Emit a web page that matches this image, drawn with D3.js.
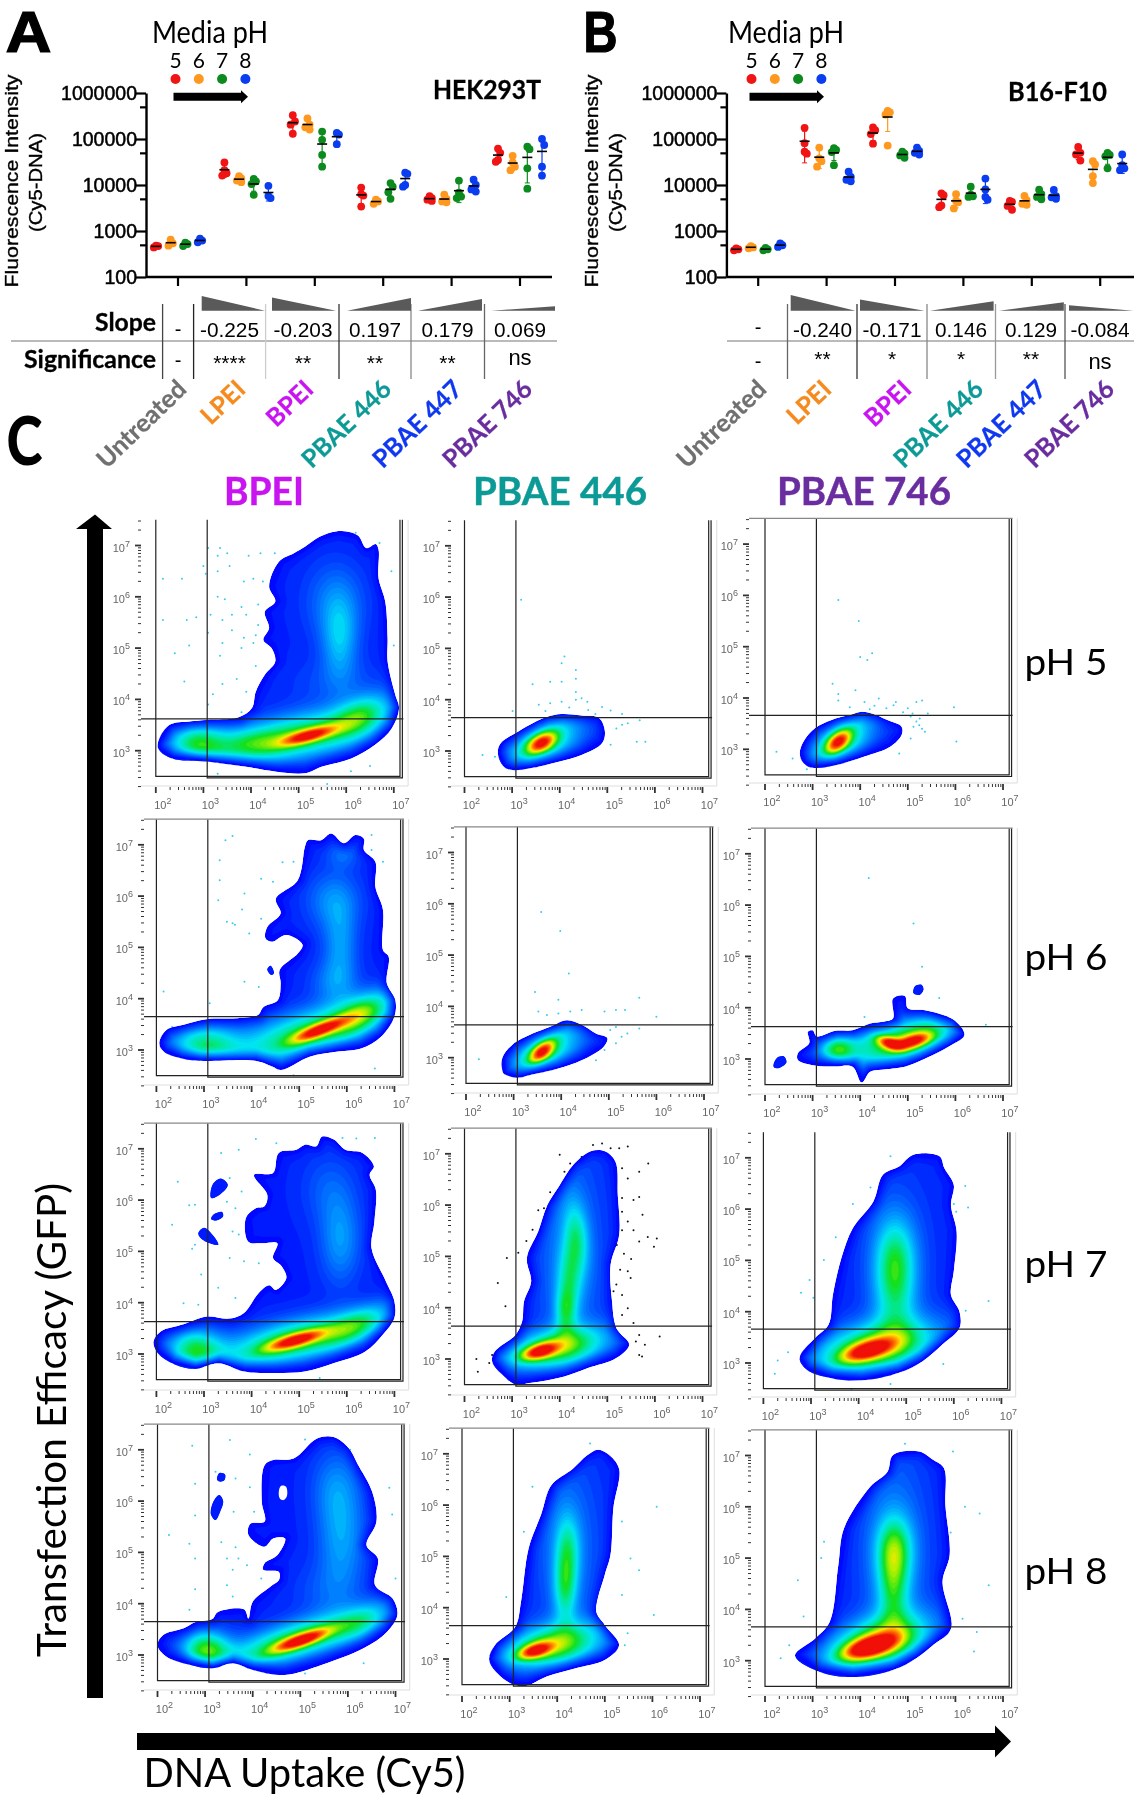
<!DOCTYPE html>
<html><head><meta charset="utf-8">
<script src="https://cdnjs.cloudflare.com/ajax/libs/d3/7.8.5/d3.min.js"></script>
<style>html,body{margin:0;padding:0;background:#fff}svg{display:block;filter:blur(0.35px)}</style>
</head><body><svg id="fig" width="1137" height="1800" xmlns="http://www.w3.org/2000/svg"></svg>
<script>
// ---------- Panels A, B: categories & labels ----------
const categories = ["Untreated","LPEI","BPEI","PBAE 446","PBAE 447","PBAE 746"];
const phLevels = [5,6,7,8];
const yTickValues = [100,500,1000,5000,10000,50000,100000,500000,1000000];
const hekSlopes = [null,-0.225,-0.203,0.197,0.179,0.069];
const hekSigLabels = ["-","****","**","**","**","ns"];
const b16Slopes = [null,-0.240,-0.171,0.146,0.129,-0.084];
const b16SigLabels = ["-","**","*","*","**","ns"];
// each: four lists, pH 5,6,7,8
const hekUntreated=[[440,470,480],[480,540,650],[470,520,560],[570,620,680]];
const hekLPEI=[[31000,21000,18000,16000],[15500,14000,12500,11500],[13500,12000,10500,6100],[9600,5800,5200]];
const hekBPEI=[[330000,240000,205000,130000],[280000,205000,180000,160000],[145000,96000,45000,25000],[135000,125000,77000]];
const hek446=[[8800,6300,5900,3400],[4800,4400,3900],[11000,9200,7000,5000],[18500,17500,10000,9200]];
const hek447=[[5700,5200,4800,4500],[6200,5000,4400,4200],[12500,6800,5600,5200],[13000,10000,8000,7200]];
const hek746=[[62000,50000,35000,32000],[43000,31000,25000,21000],[68000,60000,23000,8300],[100000,74000,25000,16000]];
const b16Untreated=[[380,400,420],[420,440,470],[380,400,430],[450,490,540]];
const b16LPEI=[[175000,81000,53000,48000],[65000,38000,33000,25000],[63000,58000,52000,27000],[19500,15000,13000,12000]];
const b16BPEI=[[178000,155000,128000,79000],[410000,380000,340000,72000],[53000,48000,44000,39000],[65000,55000,50000,46000]];
const b16446=[[6600,6000,3600,3300],[6300,4500,4200,3100],[9200,6200,5700,5500],[13800,8000,5500,4800]];
const b16447=[[4500,4300,3500,2900],[5800,4700,3900,3700],[7900,6300,5500,4900],[7800,5700,5400,5000]];
const b16746=[[67000,50000,46000,34000],[33000,28000,15500,11000],[50000,45000,42000,23000],[46000,27000,23000,21000]];

// ---------- Panel C: log10 (Cy5, GFP) outlines, density peaks [logx,logy,sdLong,sdShort,angle,height], outlying events ----------
const bpei5Outline=[[2.04,3.14],[2.28,3.5],[2.71,3.57],[3.07,3.6],[3.74,3.65],[4.02,3.83],[4.1,4.15],[4.29,4.48],[4.51,4.74],[4.43,5],[4.26,5.16],[4.38,5.39],[4.29,5.71],[4.51,5.91],[4.38,6.2],[4.59,6.69],[4.9,6.85],[5.14,6.98],[5.44,7.17],[5.81,7.28],[6.24,7.2],[6.42,6.95],[6.62,7.03],[6.68,6.92],[6.68,6.36],[6.82,5.91],[6.87,5.19],[6.87,4.74],[7.03,4.09],[7.11,3.83],[6.96,3.44],[6.6,3.11],[6.11,2.85],[5.5,2.69],[5.14,2.56],[4.53,2.59],[3.86,2.69],[3.07,2.79],[2.34,2.85],[2.07,3.01]];
const bpei5Peaks=[[5.2,3.28,.42,.09,14,.55],[5,3.27,1.15,.3,10,.52],[6.3,3.68,.45,.24,25,.34],[2.85,3.13,.42,.27,0,.45],[3.95,3.12,.5,.2,5,.2],[5.85,5.15,.26,.55,0,.24],[5.75,5.9,.45,.55,0,.15],[5.8,4.3,.7,.35,0,.08]];
const bpei5Dots=[[3.1,6.95],[3.35,6.95],[3.5,6.85],[3.3,6.8],[3,6.6],[3.05,6.45],[3.3,6.5],[3.55,6.6],[3.95,6.8],[4.2,6.85],[4.5,6.85],[2.55,6.35],[2.15,6.35],[3.85,6.3],[4.05,6.35],[4.25,6.3],[3.3,6],[3.45,5.95],[4.15,5.85],[3.8,5.8],[2.85,5.6],[3.15,5.65],[3.4,5.55],[3.6,5.65],[3.9,5.65],[4.15,5.45],[2.15,5.55],[2.65,5.55],[3.1,5.3],[3.6,5.35],[3.85,5.2],[4.1,5.25],[2.7,5.05],[3.4,5.1],[3.8,5],[4.05,5.1],[3.35,4.85],[2.4,4.9],[2.6,4.35],[3.2,4.1],[3.4,4.3],[3.7,4.4],[3.9,4.15],[4.1,4.65],[6.2,7.25],[6.7,7.05],[6.95,6.5],[7,5.05],[3.1,3.9],[3.8,3.75],[6.5,2.7],[6.1,2.6],[3.3,2.55],[5.6,2.35]];
const p4465Outline=[[2.7,2.95],[2.76,3.15],[3.13,3.38],[3.49,3.57],[3.74,3.67],[4.04,3.72],[4.46,3.69],[4.83,3.64],[4.95,3.38],[4.89,3.15],[4.46,2.92],[3.98,2.79],[3.37,2.66],[3.01,2.63],[2.83,2.69]];
const p4465Peaks=[[3.6,3.14,.24,.12,25,.62],[3.65,3.15,.6,.3,25,.42]];
const p4465Dots=[[4.1,4.84],[4.04,4.71],[4.34,4.58],[4.34,4.41],[3.8,4.35],[3.43,4.3],[4.04,4.35],[4.34,4.15],[3.56,3.9],[3.8,3.93],[4.04,3.96],[4.34,4],[4.46,4.03],[4.58,3.96],[4.89,3.86],[5.07,3.79],[5.31,3.72],[5.68,3.6],[3.19,5.95],[5.31,3.51],[5.19,3.44],[5.43,3.54],[5.07,3.12],[5.8,3.18],[5.62,3.18],[2.38,2.92],[2.64,2.89],[3.01,3.78],[4.2,3.85],[4.6,3.8],[4.75,3.72],[3.7,3.78]];
const p7465Outline=[[2.73,2.92],[2.81,3.15],[3.05,3.41],[3.48,3.6],[3.79,3.67],[4.03,3.73],[4.33,3.67],[4.57,3.57],[4.87,3.44],[4.87,3.28],[4.63,3.05],[4.09,2.86],[3.48,2.69],[3,2.64],[2.81,2.73]];
const p7465Peaks=[[3.52,3.13,.22,.12,35,.62],[3.6,3.15,.55,.3,35,.42]];
const p7465Dots=[[3.54,5.91],[3.97,5.5],[4.25,4.87],[4.15,4.74],[4,4.8],[3.42,4.28],[3.9,4.15],[3.54,4.08],[3.54,3.95],[3.78,3.82],[4.09,3.92],[4.39,3.99],[4.75,3.92],[5.18,3.92],[5.3,3.95],[5.97,3.82],[5.42,3.7],[5.06,3.64],[5.18,3.54],[5.12,3.44],[5.24,3.47],[5.36,3.34],[5.06,3.21],[4.82,2.92],[6.02,3.15],[2.24,2.95],[2.58,2.82],[2.88,2.61],[4.3,3.85],[4.55,3.8],[4.7,3.86],[4.9,3.72],[5,3.8],[4.2,3.78],[5.1,3.7],[5.25,3.6],[5.3,3.4]];
const bpei6Outline=[[2.06,3.13],[2.21,3.39],[2.57,3.49],[3.05,3.6],[3.71,3.62],[4.13,3.68],[4.25,3.84],[4.55,3.97],[4.61,4.3],[4.59,4.56],[4.97,4.88],[5.07,5.05],[4.73,5.24],[4.43,5.11],[4.29,5.18],[4.33,5.4],[4.61,5.66],[4.51,5.95],[4.97,6.31],[5.12,6.96],[5.18,7.09],[5.46,7.09],[5.67,7.22],[5.94,7.03],[6.18,7.19],[6.36,7.12],[6.36,6.9],[6.6,6.67],[6.6,6.18],[6.76,5.73],[6.76,4.95],[6.88,4.82],[6.84,4.3],[7.02,3.97],[7,3.65],[6.72,3.26],[6.3,3.03],[5.82,2.97],[5.22,2.87],[4.62,2.61],[4.43,2.68],[4.07,2.79],[2.93,2.79],[2.51,2.84],[2.15,2.97]];
const bpei6Islands=[[[4.33,4.58],[4.4,4.64],[4.47,4.5],[4.42,4.46],[4.35,4.52]]];
const bpei6Peaks=[[5.4,3.37,.42,.09,20,.58],[5.2,3.33,1.15,.3,15,.5],[6.3,3.7,.45,.22,30,.36],[3,3.1,.5,.27,0,.42],[5.85,5,.25,.55,0,.2],[5.7,5.9,.4,.4,0,.18],[5.9,6.8,.25,.2,0,.12],[5.7,4.3,.35,.3,0,.14]];
const bpei6Dots=[[3.6,7.17],[3.45,7.09],[3.33,6.7],[3.33,6.31],[3.3,5.92],[3.8,5.74],[4.2,6.34],[4.45,6.28],[4.65,6.66],[4.88,6.67],[4.2,5.56],[3.48,5.5],[3.65,5.44],[3.95,5.27],[3.6,5.47],[3.85,4.33],[2.15,4.14],[3.85,6.05],[4.15,4.23],[3.12,3.91],[6.52,7.19],[6.52,6.9],[6.76,6.67],[6.59,2.64],[4.88,2.51],[2.33,3.45]];
const p4466Outline=[[2.79,2.69],[2.76,2.99],[2.97,3.25],[3.4,3.47],[3.76,3.6],[4.12,3.73],[4.43,3.64],[4.73,3.47],[4.97,3.38],[4.89,3.21],[4.43,2.95],[3.94,2.79],[3.33,2.66],[3.09,2.61],[2.85,2.66]];
const p4466Peaks=[[3.58,3.1,.22,.11,35,.62],[3.65,3.12,.6,.3,30,.42]];
const p4466Dots=[[3.58,5.84],[3.98,5.47],[4.16,4.64],[3.45,4.28],[3.94,4.13],[5.64,4.17],[5.34,3.93],[5.15,3.93],[4.91,3.9],[4.43,3.93],[4.19,3.9],[3.94,3.86],[3.7,3.83],[3.52,3.9],[6,3.8],[5.64,3.57],[5.15,3.6],[5.03,3.54],[5.27,3.41],[5.39,3.47],[5.15,3.28],[4.91,3.15],[4.73,2.95],[2.27,2.97]];
const p7466Outline=[[2.69,3.11],[2.93,3.31],[2.9,3.53],[3,3.56],[3.09,3.44],[3.48,3.55],[3.84,3.56],[4.21,3.69],[4.51,3.73],[4.69,3.79],[4.69,4.18],[4.94,4.23],[5,3.99],[5.36,3.95],[5.97,3.76],[6.19,3.47],[5.91,3.27],[5.3,2.98],[4.94,2.85],[4.45,2.79],[4.21,2.75],[4.03,2.54],[3.84,2.85],[3.48,2.86],[3,2.88],[2.69,2.98]];
const p7466Islands=[[[2.18,2.85],[2.25,3.02],[2.4,3.05],[2.45,2.93],[2.28,2.82]],[[5.12,4.28],[5.15,4.42],[5.28,4.45],[5.33,4.36],[5.25,4.25]]];
const p7466Peaks=[[4.6,3.3,.2,.08,-15,.5],[5.1,3.33,.28,.09,15,.5],[4.8,3.3,.8,.27,10,.55],[3.5,3.17,.25,.2,0,.42],[5.4,3.6,.4,.2,20,.15]];
const p7466Dots=[[4.18,6.53],[5.12,5.64],[5.3,4.8],[5.66,4.19],[4.09,3.82],[6.64,3.67]];
const bpei7Outline=[[1.94,3.25],[2.09,3.44],[2.57,3.58],[3.06,3.73],[3.54,3.69],[3.84,3.8],[4.15,4.19],[4.37,4.34],[4.51,4.25],[4.73,4.48],[4.63,4.71],[4.45,4.87],[4.54,5.16],[4.21,5.16],[3.93,5.19],[3.88,5.65],[4.09,5.84],[4.27,5.88],[4.33,6.1],[4.05,6.49],[4.45,6.53],[4.57,6.92],[4.94,6.98],[5.12,7.08],[5.36,7.05],[5.48,7.24],[5.73,7.18],[5.97,6.98],[6.33,6.92],[6.57,6.66],[6.48,6.49],[6.61,6.2],[6.58,5.58],[6.52,5.06],[6.82,4.42],[7,4.03],[7,3.7],[6.76,3.38],[6.39,3.05],[5.72,2.82],[5.12,2.66],[4.51,2.63],[3.84,2.66],[3.3,2.82],[2.81,2.71],[2.33,2.82],[2,3.05]];
const bpei7Islands=[[[3.15,6.04],[3.18,6.3],[3.35,6.42],[3.5,6.3],[3.35,6.12]],[[3.15,5.63],[3.2,5.72],[3.38,5.77],[3.4,5.68],[3.25,5.6]],[[2.88,5.35],[3,5.46],[3.2,5.3],[3.3,5.13],[3.15,5.15],[2.98,5.22]]];
const bpei7Peaks=[[4.9,3.25,.45,.09,15,.55],[4.9,3.25,1.1,.27,12,.55],[6.2,3.55,.5,.2,25,.3],[2.8,3.08,.4,.27,0,.47],[5.85,5.2,.3,.6,0,.2],[5.6,6.2,.4,.5,0,.1]];
const bpei7Dots=[[4.09,7.19],[4.52,7.11],[5.91,7.21],[6.2,7.2],[6.59,7.21],[3.73,6.98],[3.36,6.92],[2.45,6.36],[2.81,5.91],[2.69,5.9],[3.54,6.43],[3.79,6.17],[3.48,5.97],[3.66,5.84],[3.6,5.39],[3.73,5.33],[2.81,5.13],[2.33,5.52],[2.75,5.05],[3.54,4.87],[3.84,4.81],[4.15,4.77],[2.94,4.55],[3.3,4.29],[3.66,4.09],[2.88,3.96],[2.57,3.99],[5.43,2.53]];
const p4467Outline=[[2.58,2.95],[2.64,3.15],[3.07,3.47],[3.21,3.73],[3.25,4.12],[3.4,4.51],[3.31,4.97],[3.55,5.49],[3.74,6],[3.98,6.36],[4.29,6.79],[4.65,7.05],[4.95,7.05],[5.17,6.85],[5.22,6.2],[5.25,5.42],[5.07,4.84],[5.1,4.12],[5.19,3.6],[5.46,3.28],[5.19,3.02],[4.58,2.82],[4.1,2.66],[3.37,2.53],[3.07,2.5],[2.83,2.66]];
const p4467Peaks=[[3.55,3.13,.28,.1,15,.6],[3.9,3.2,.75,.25,10,.55],[4.34,5.36,.18,.5,5,.28],[4.18,4.5,.18,.5,0,.28],[4.1,3.9,.15,.3,0,.26],[4.2,5,.5,1.6,0,.16]];
const p4467Dots=[[5.43,7.14],[5.25,7.11],[5.07,7.11],[4.89,7.2],[4.7,7.17],[4.46,6.94],[4.22,6.81],[4,6.98],[5.86,6.81],[5.31,6.72],[5.43,6.52],[5.67,6.65],[5.31,6.14],[5.55,6.1],[5.67,6.16],[5.31,5.87],[5.74,5.81],[5.43,5.68],[5.31,5.51],[5.55,5.51],[5.85,5.38],[6.04,5.35],[5.98,5.19],[5.67,5.29],[5.2,5.22],[5.27,4.74],[5.43,4.71],[5.49,4.58],[5.19,4.45],[5.13,4.32],[5.31,4.25],[5.43,3.99],[5.31,3.86],[5.55,3.7],[5.67,3.47],[6.1,3.44],[5.6,3.34],[5.79,3.28],[5.67,3.08],[5.73,3.05],[3.67,5.94],[3.55,5.9],[3.43,5.52],[3.13,5.07],[2.89,4.97],[2.7,4.48],[2.86,4.03],[2.25,3],[2.52,2.92],[2.58,3.08],[2.28,2.75],[5.5,4.95],[5.35,5.05],[3.8,6.25],[4.1,6.65],[3.3,5.3]];
const p7467Outline=[[2.76,3.1],[3.09,3.49],[3.37,3.75],[3.46,4.33],[3.64,5.05],[3.88,5.63],[4.31,6.15],[4.51,6.67],[4.85,6.83],[5.15,7.06],[5.7,7.03],[5.8,6.8],[6,6.47],[5.94,6.08],[6.06,5.56],[6,4.79],[5.94,4.33],[6.12,4],[6.12,3.68],[5.76,3.36],[5.34,3.03],[4.85,2.81],[4.06,2.66],[3.4,2.71],[2.91,2.87]];
const p7467Peaks=[[4.15,3.22,.4,.13,15,.6],[4.35,3.3,.9,.33,10,.58],[4.75,4.3,.3,.6,0,.28],[4.75,5.1,.3,.55,0,.3],[4.75,5,.55,1.3,0,.1]];
const p7467Dots=[[4.67,7.03],[5.4,7.07],[6.24,6.45],[6,6.1],[6.3,6.03],[6.05,5.95],[3.88,6.1],[4.25,6.42],[3.52,5.45],[3.27,5.01],[2.97,4.62],[2.79,4.37],[3.05,4.27],[6.73,4.21],[6.25,4.02],[2.52,3.21],[2.3,3.05],[2.24,2.79],[3.85,2.49],[4.67,2.59],[5.78,2.98]];
const bpei8Outline=[[2,3.19],[2.12,3.39],[2.55,3.52],[2.79,3.64],[3.15,3.7],[3.27,3.84],[3.82,3.89],[3.91,3.71],[4,4.04],[4.37,4.33],[4.55,4.46],[4.55,4.62],[4.22,4.66],[4.25,4.79],[4.52,4.95],[4.68,5.27],[4.43,5.27],[4.25,5.11],[3.91,5.34],[3.95,5.56],[4.25,5.6],[4.19,5.99],[4.25,6.7],[4.43,6.8],[4.86,6.83],[5.35,7.22],[5.7,7.25],[6.02,7.03],[6.2,6.73],[6.51,6.18],[6.6,5.6],[6.39,5.14],[6.63,4.88],[6.57,4.36],[6.94,4.1],[7.04,3.78],[6.82,3.45],[6.33,3.13],[5.46,2.81],[4.67,2.61],[4,2.71],[3.58,2.84],[3.15,2.74],[2.67,2.81],[2.18,2.97]];
const bpei8Islands=[[[3.25,6.42],[3.3,6.55],[3.42,6.52],[3.4,6.4],[3.3,6.38]],[[3.12,5.75],[3.18,6],[3.3,6.12],[3.38,6],[3.32,5.8],[3.22,5.63]]];
const bpei8Holes=[[[4.55,6.2],[4.6,6.3],[4.7,6.28],[4.72,6.1],[4.65,6.02],[4.57,6.05]]];
const bpei8Peaks=[[5,3.27,.45,.09,18,.6],[4.9,3.27,1.1,.25,15,.53],[3,3.1,.35,.25,0,.53],[6.3,3.65,.4,.2,25,.22],[5.85,5.3,.35,.8,0,.22],[5.7,6.3,.35,.5,0,.12],[5.5,4.2,.5,.4,0,.08]];
const bpei8Dots=[[3.52,7.19],[2.73,7.08],[3.94,6.91],[5.1,7.2],[6.05,7],[6.87,6.26],[6.93,5.74],[2.79,6.34],[3.22,6.57],[3.64,6.44],[3.94,6.27],[3.6,5.79],[4.03,5.79],[2.79,5.72],[2.24,5.34],[2.67,5.17],[3.34,5.2],[3.64,5.1],[3.7,4.88],[3.46,4.88],[2.79,4.88],[3.58,4.66],[3.88,4.75],[4.18,4.49],[3.46,4.36],[3.58,4.14],[2.79,4.28],[2.67,3.88],[7,4.49],[6.33,2.84],[5.1,2.64]];
const p4468Outline=[[2.57,2.98],[2.69,3.27],[3.12,3.63],[3.24,4.12],[3.4,5.16],[3.66,5.81],[3.88,6.39],[4.33,6.71],[4.63,6.97],[4.85,7.08],[5.06,7],[5.3,6.71],[5.18,5.94],[5.12,5.03],[5,4.64],[4.82,3.92],[5,3.66],[5.3,3.27],[5,2.98],[4.39,2.82],[3.78,2.66],[3.36,2.48],[3.12,2.49],[2.81,2.66]];
const p4468Peaks=[[3.5,3.14,.27,.1,15,.6],[3.9,3.25,.72,.28,10,.58],[4.2,5.1,.18,.5,0,.3],[4.15,4.3,.17,.45,0,.3],[4.2,5.2,.5,1.3,0,.15]];
const p4468Dots=[[4.69,7.2],[3.48,6.36],[3.3,5.48],[2.93,4.21],[6.03,3.86],[6.09,5.97],[5.36,5.68],[5.54,4.96],[5.72,4.73],[5.48,3.5],[5.36,4.25],[5.42,3.27]];
const p7468Outline=[[2.63,3.1],[3.06,3.44],[3.36,3.76],[3.54,4.86],[3.66,5.58],[4.21,6.39],[4.57,6.68],[4.69,7.01],[5.24,7.08],[5.54,6.91],[5.76,6.75],[5.79,6.03],[5.88,5.06],[5.73,4.54],[5.91,3.63],[5.54,3.31],[5.18,3.05],[4.69,2.82],[3.84,2.68],[3.12,2.79]];
const p7468Peaks=[[4.15,3.24,.42,.14,15,.7],[4.35,3.35,.75,.32,15,.6],[4.7,5.15,.26,.45,0,.42],[4.68,4.3,.22,.5,0,.3],[4.7,5,.5,1.5,0,.18]];
const p7468Dots=[[4.94,7.23],[5.95,7.08],[6.51,5.87],[6.2,6],[5.9,5.5],[3.24,5.32],[3.18,5],[2.69,4.57],[6.7,4.47],[6.15,3.82],[6.45,3.56],[2.51,3.3],[2.33,3.05],[6.39,3.18],[2.81,3.86]];

const columnTitles=["BPEI","PBAE 446","PBAE 746"];
const rowTitles=["pH 5","pH 6","pH 7","pH 8"];
const gateValues={left:2.0,mid:3.08,right:7.13,right2:7.18,top:7.5,bottom:2.5,bottom2:2.47};
const gateHorizontal=[[3.62,3.65,3.66],[3.65,3.64,3.63],[3.63,3.64,3.66],[3.65,3.65,3.66]];

// ---------- layout (pixels) ----------
const panelLayout=[
 [{x2:155.8,y3:750.7,col:141,row:787},{x2:464.5,y3:751,col:451,row:787},{x2:765,y3:749.3,col:749,row:784}],
 [{x2:156.4,y3:1050,col:144,row:1086},{x2:466,y3:1057.7,col:454,row:1094},{x2:765,y3:1059,col:751,row:1095}],
 [{x2:156.4,y3:1354,col:144,row:1391},{x2:464.5,y3:1359,col:451,row:1396},{x2:763.4,y3:1363,col:751,row:1398}],
 [{x2:157.5,y3:1655,col:144,row:1691},{x2:462,y3:1659,col:449,row:1696},{x2:765,y3:1660.7,col:751,row:1696}]];
const rowTitleY=[675,970,1277,1584];
const topGateRows=[[0,0,1],[1,1,1],[1,1,0],[1,1,1]];
const phColors=["#f01414","#ff981e","#0c8a1e","#0a3cf0"];
const catColors=["#707070","#f58a1f","#c814f0","#0c9a96","#0f38f0","#6a2da0"];
const densityStops=[[0,"#0008ff"],[.12,"#0050ff"],[.24,"#0098ff"],[.36,"#00e4f4"],[.46,"#00e8a0"],[.56,"#10e020"],[.68,"#a8f000"],[.76,"#ffe800"],[.86,"#ff8000"],[1,"#f01008"]];

const svg=d3.select("#fig");
const LB="Lato, 'Open Sans', sans-serif", LS="'Liberation Sans', Arial, sans-serif";
function txt(g,s,x,y,size,o={}){
  const t=g.append("text").attr("x",x).attr("y",y).attr("font-size",size).attr("font-family",o.f||LB)
    .attr("font-weight",o.w||400).attr("fill",o.c||"#000").attr("text-anchor",o.a||"middle").text(s);
  if(o.len) t.attr("textLength",o.len).attr("lengthAdjust","spacingAndGlyphs");
  if(o.rot!=null) t.attr("transform",`rotate(${o.rot} ${x} ${y})`);
  if(o.st) t.attr("stroke",o.c||"#000").attr("stroke-width",o.st);
  return t;
}
function arrowRight(g,x0,x1,xh,y,sw,hw){
  g.append("path").attr("fill","#000").attr("d",`M${x0},${y-sw/2}L${xh},${y-sw/2}L${xh},${y-hw/2}L${x1},${y}L${xh},${y+hw/2}L${xh},${y+sw/2}L${x0},${y+sw/2}Z`);
}

// ---------- dot plots ----------
function dotPlot(cfg){
  const g=svg.append("g");
  const y=d3.scaleLog().domain([100,1e6]).range([cfg.y100,cfg.y1e6]);
  const x=d3.scaleBand().domain(categories).range([cfg.xLeft,cfg.xLeft+6*cfg.step]);
  const ph=d3.scalePoint().domain(phLevels).range([-22,22]);
  const ya=g.append("g").attr("transform",`translate(${cfg.axisX},0)`)
    .call(d3.axisLeft(y).tickValues(yTickValues).tickSizeOuter(0).tickFormat(d=>String(d).startsWith("5")?"":d3.format("d")(d)));
  ya.selectAll("line").attr("stroke","#000").attr("stroke-width",2.2).attr("x2",d=>String(d).startsWith("5")?-6:-10);
  ya.select(".domain").attr("stroke","#000").attr("stroke-width",2.4);
  ya.selectAll("text").attr("font-family",LS).attr("font-size",19.5).attr("fill","#000").attr("stroke","#000").attr("stroke-width",.5).attr("x",-9).attr("dy",".34em");
  const xa=g.append("g").attr("transform",`translate(0,${cfg.y100})`)
    .call(d3.axisBottom(x).tickSizeOuter(0).tickSize(9).tickFormat(""));
  xa.selectAll("line").attr("stroke","#000").attr("stroke-width",2.2);
  xa.select(".domain").attr("stroke","#000").attr("stroke-width",2.4).attr("d",`M${cfg.axisX},0H${cfg.xEnd}`);
  cfg.groups.forEach((grp,gi)=>{
    const cx=x(categories[gi])+x.bandwidth()/2;
    grp.forEach((vals,pi)=>{
      const col=phColors[pi], px=cx+ph(phLevels[pi]);
      const m=d3.mean(vals), sd=d3.deviation(vals);
      const lo=Math.max(m-sd,110), hi=m+sd;
      g.append("line").attr("x1",px).attr("x2",px).attr("y1",y(lo)).attr("y2",y(hi)).attr("stroke",col).attr("stroke-width",1.2);
      [lo,hi].forEach(v=>g.append("line").attr("x1",px-2.5).attr("x2",px+2.5).attr("y1",y(v)).attr("y2",y(v)).attr("stroke",col).attr("stroke-width",1));
      const sorted=[...vals].sort((a,b)=>b-a);
      let flip=1,prev=null;
      const pts=sorted.map(v=>{let off=0; if(prev!=null&&Math.abs(y(v)-prev)<6.5){off=2.2*flip;flip=-flip;} prev=y(v); return {v,off};});
      g.selectAll(null).data(pts).join("circle").attr("cx",d=>px+d.off).attr("cy",d=>y(d.v)).attr("r",3.9).attr("fill",col);
      g.append("line").attr("x1",px-5).attr("x2",px+5).attr("y1",y(m)).attr("y2",y(m)).attr("stroke","#000").attr("stroke-width",1.6);
    });
  });
  // legend
  txt(g,"Media pH",cfg.legX,43,30,{len:116});
  phLevels.forEach((p,i)=>{
    const lx=cfg.legX-34.5+i*23.3;
    txt(g,p,lx,68,21);
    g.append("circle").attr("cx",lx).attr("cy",79).attr("r",5).attr("fill",phColors[i]);
  });
  arrowRight(g,cfg.legX-36.5,cfg.legX+38,cfg.legX+31,96.7,8,13);
  txt(g,cfg.cell,cfg.cellX,cfg.cellY,26,{w:700,a:"start",len:cfg.cellLen,st:.3});
  txt(g,"Fluorescence Intensity",cfg.axisX-128,181,18.5,{f:LS,rot:-90,len:213,st:.35});
  txt(g,"(Cy5-DNA)",cfg.axisX-104,182.5,18.5,{f:LS,rot:-90,len:99,st:.35});
  // table
  const slopeH=d3.scaleLinear().domain([0,.24]).range([0,15.6]);
  g.append("line").attr("x1",cfg.tblX0).attr("x2",cfg.tblX1).attr("y1",341).attr("y2",341).attr("stroke","#777").attr("stroke-width",1.2);
  cfg.vlines.forEach(([vx,c,top])=>g.append("line").attr("x1",vx).attr("x2",vx).attr("y1",top||304).attr("y2",379).attr("stroke",c).attr("stroke-width",1.3));
  cfg.slopes.forEach((s,i)=>{
    const cx=cfg.cols[i];
    if(s==null){ txt(g,"-",cx,cfg.dashY[0],20,{f:LS}); txt(g,"-",cx,cfg.dashY[1],20,{f:LS}); return; }
    const [a,b]=cfg.wedges[i], h=slopeH(Math.abs(s));
    g.append("path").attr("fill","#5a5a5a").attr("d",s<0?`M${a},310.7V${310.7-h}L${b},310.7Z`:`M${a},310.7L${b},${310.7-h}V310.7Z`);
    txt(g,s.toFixed(3),cx,336.7,19.5,{f:LS,len:s<0?59:cfg.posLen});
    const sig=cfg.sig[i];
    if(sig==="ns") txt(g,"ns",cx,cfg.nsY,22,{f:LS});
    else txt(g,sig,cx,cfg.starY,21,{f:LS,w:400});
  });
  // rotated category labels
  cfg.labelEnds.forEach(([ex,ey],i)=>txt(g,categories[i],ex,ey,25,{w:700,c:catColors[i],a:"end",rot:-44,st:.25}));
}
dotPlot({groups:[hekUntreated,hekLPEI,hekBPEI,hek446,hek447,hek746],axisX:146,xEnd:552,xLeft:143.8,step:68.4,y100:277,y1e6:93,
  legX:210,cell:"HEK293T",cellX:433,cellY:99,cellLen:108,slopes:hekSlopes,sig:hekSigLabels,tblX0:11,tblX1:557,posLen:52,
  vlines:[[162.6,"#444"],[193.6,"#222"],[265.6,"#ccc"],[339,"#333"],[411,"#888"],[484.5,"#666"]],
  cols:[178,229.5,303,375,447.5,520],dashY:[336,367],starY:370,nsY:365,
  wedges:{1:[201.7,265],2:[272,336],3:[347,411],4:[418,482],5:[491,555]},
  labelEnds:[[188,391],[247,391],[315,391],[393,391],[464,391],[534,391]]});
dotPlot({groups:[b16Untreated,b16LPEI,b16BPEI,b16446,b16447,b16746],axisX:726.4,xEnd:1134,xLeft:724,step:68.4,y100:277,y1e6:93,
  legX:786,cell:"B16-F10",cellX:1008,cellY:101,cellLen:99,slopes:b16Slopes,sig:b16SigLabels,tblX0:727,tblX1:1134,posLen:52,
  vlines:[[787.5,"#666"],[857,"#333"],[927,"#888"],[995.5,"#999"],[1065,"#555"]],
  cols:[758,822.5,892,961,1031,1100],dashY:[334,368],starY:366,nsY:369,
  wedges:{1:[790.7,855.5],2:[860,924.5],3:[930,993.6],4:[999,1063.8],5:[1069,1133.6]},
  labelEnds:[[768,391],[833,391],[913,391],[985,391],[1048,391],[1116,391]]});
// side headers of table A
txt(svg,"Slope",156,331,25,{w:700,a:"end",len:61,st:.3});
txt(svg,"Significance",156,368,25,{w:700,a:"end",len:132,st:.3});
// panel letters
txt(svg,"A",28.5,52,57,{f:LS,w:700,len:46,st:1.2});
txt(svg,"B",600.5,52,57,{f:LS,w:700,len:34,st:1.2});
txt(svg,"C",24.5,465,66,{w:900,len:36});
// column / row titles
txt(svg,columnTitles[0],264,505,38,{w:700,c:catColors[2],len:80,st:.4});
txt(svg,columnTitles[1],560,505,38,{w:700,c:catColors[3],len:174,st:.4});
txt(svg,columnTitles[2],864,505,38,{w:700,c:catColors[5],len:174,st:.4});
rowTitles.forEach((t,i)=>txt(svg,t,1066,rowTitleY[i],37,{len:83}));
// large arrows
svg.append("path").attr("fill","#000").attr("d","M87,1698V529H76L95,514.5L112,529H103V1698Z");
arrowRight(svg,137,1011,995,1741.5,17,32);
txt(svg,"DNA Uptake (Cy5)",143.5,1787,40,{a:"start",len:322});
txt(svg,"Transfection Efficacy (GFP)",66,1420,40,{rot:-90,len:474});

// ---------- density panels ----------
const densityPanels=[
 [{o:bpei5Outline,p:bpei5Peaks,d:bpei5Dots},{o:p4465Outline,p:p4465Peaks,d:p4465Dots},{o:p7465Outline,p:p7465Peaks,d:p7465Dots}],
 [{o:bpei6Outline,i:bpei6Islands,p:bpei6Peaks,d:bpei6Dots},{o:p4466Outline,p:p4466Peaks,d:p4466Dots},{o:p7466Outline,i:p7466Islands,p:p7466Peaks,d:p7466Dots}],
 [{o:bpei7Outline,i:bpei7Islands,p:bpei7Peaks,d:bpei7Dots},{o:p4467Outline,p:p4467Peaks,d:p4467Dots,black:true},{o:p7467Outline,p:p7467Peaks,d:p7467Dots}],
 [{o:bpei8Outline,i:bpei8Islands,h:bpei8Holes,p:bpei8Peaks,d:bpei8Dots},{o:p4468Outline,p:p4468Peaks,d:p4468Dots},{o:p7468Outline,p:p7468Peaks,d:p7468Dots}]];
const color=d3.scaleLinear().domain(densityStops.map(d=>d[0])).range(densityStops.map(d=>d[1])).clamp(true);
const thresholds=d3.range(.03,1.15,.028);
const dec=["2","3","4","5","6","7"];
const GX0=1.8,GY0=2.3,STEP=.03,NX=190,NY=178;
function segDist(px,py,poly){
  let best=1e9;
  for(let i=0;i<poly.length;i++){
    const a=poly[i],b=poly[(i+1)%poly.length];
    const dx=b[0]-a[0],dy=b[1]-a[1];
    let t=((px-a[0])*dx+(py-a[1])*dy)/(dx*dx+dy*dy); t=Math.max(0,Math.min(1,t));
    const ex=px-a[0]-t*dx, ey=py-a[1]-t*dy, dd=ex*ex+ey*ey;
    if(dd<best)best=dd;
  }
  return Math.sqrt(best);
}
densityPanels.forEach((row,ri)=>row.forEach((P,ci)=>{
  const L=panelLayout[ri][ci];
  const x=d3.scaleLog().domain([100,1e7]).range([L.x2,L.x2+5*47.6]);
  const y=d3.scaleLog().domain([1000,1e7]).range([L.y3,L.y3-4*51.3]);
  const g=svg.append("g");
  const lx=v=>x(10**v), ly=v=>y(10**v);
  const id=`clip${ri}${ci}`;
  const line=d3.line().x(d=>lx(d[0])).y(d=>ly(d[1])).curve(d3.curveCatmullRomClosed.alpha(.5));
  const shapes=[P.o,...(P.i||[])];
  g.append("clipPath").attr("id",id).append("path").attr("d",shapes.map(s=>line(s)).join(""));
  // outlying events
  g.selectAll(null).data(P.d).join("circle").attr("cx",d=>lx(d[0])).attr("cy",d=>ly(d[1])).attr("r",1)
    .attr("fill",P.black?"#111":"#35cdf0");
  // density field
  const field=new Float64Array(NX*NY);
  const comps=P.p.map(c=>({cx:c[0],cy:c[1],a:c[2],b:c[3],ca:Math.cos(c[4]*Math.PI/180),sa:Math.sin(c[4]*Math.PI/180),h:c[5]}));
  for(let j=0;j<NY;j++)for(let i=0;i<NX;i++){
    const gx=GX0+i*STEP,gy=GY0+j*STEP;
    let v=.05;
    for(const c of comps){
      const u=(gx-c.cx)*c.ca+(gy-c.cy)*c.sa, w=-(gx-c.cx)*c.sa+(gy-c.cy)*c.ca;
      v+=c.h*Math.exp(-.5*(u*u/(c.a*c.a)+w*w/(c.b*c.b)));
    }
    const e=Math.min(1,segDist(gx,gy,P.o)/.3);
    field[j*NX+i]=v*(e*(2-e));
  }
  const proj=d3.geoTransform({point(a,b){this.stream.point(lx(GX0+a*STEP),ly(GY0+b*STEP));}});
  const geo=d3.geoPath(proj);
  const dens=g.append("g").attr("clip-path",`url(#${id})`);
  shapes.forEach(s=>dens.append("path").attr("d",line(s)).attr("fill",color(0)));
  dens.selectAll(null).data(d3.contours().size([NX,NY]).smooth(true).thresholds(thresholds)(field)).join("path")
    .attr("d",geo).attr("fill",d=>color(d.value));
  (P.h||[]).forEach(s=>g.append("path").attr("d",line(s)).attr("fill","#fff"));
  // gates
  const gv=gateValues, topY=ly(gv.top);
  const gate=g.append("g").attr("fill","none").attr("stroke","#222").attr("stroke-width",1.2);
  gate.append("path").attr("d",`M${lx(gv.left)},${topY}V${ly(gv.bottom)}H${lx(gv.right)}V${topY}`);
  gate.append("path").attr("d",`M${lx(gv.mid)},${topY}V${ly(gv.bottom2)}H${lx(gv.right2)}V${topY}`);
  gate.append("line").attr("x1",L.col).attr("x2",lx(gv.right2)+1).attr("y1",ly(gateHorizontal[ri][ci])).attr("y2",ly(gateHorizontal[ri][ci]));
  if(topGateRows[ri][ci]) gate.append("line").attr("x1",L.col).attr("x2",lx(gv.right2)+1).attr("y1",topY).attr("y2",topY).attr("stroke","#888");
  // faint frame
  g.append("path").attr("fill","none").attr("stroke","#ddd").attr("stroke-width",1).attr("d",`M${L.col},${L.row-1}H${lx(7.3)}V${topY}`);
  // log ticks
  const ax=g.append("g").attr("stroke","#333");
  const ticks=d3.scaleLog().domain([100,1e7]).ticks().filter(v=>v<=1e7);
  ax.selectAll(null).data(ticks).join("line").attr("x1",d=>x(d)).attr("x2",d=>x(d))
    .attr("y1",L.row).attr("y2",d=>L.row+(Number.isInteger(Math.log10(d))?6:3))
    .attr("stroke-width",d=>Number.isInteger(Math.log10(d))?1.8:1);
  const yt=d3.scaleLog().domain([200,3e7]).ticks();
  ax.selectAll(null).data(yt).join("line").attr("y1",d=>y(d)).attr("y2",d=>y(d))
    .attr("x1",d=>L.col-(Number.isInteger(Math.log10(d))?6:3)).attr("x2",L.col)
    .attr("stroke-width",d=>Number.isInteger(Math.log10(d))?1.8:1);
  const lab=(s,xx,yy,a)=>{
    const t=g.append("text").attr("x",xx).attr("y",yy).attr("font-family",LS).attr("font-size",11).attr("fill","#666").attr("text-anchor",a);
    t.append("tspan").text("10");
    t.append("tspan").attr("dy",-5).attr("font-size",9).text(s);
  };
  dec.forEach(d=>lab(d,x(10**+d)+7,L.row+22,"middle"));
  ["3","4","5","6","7"].forEach(d=>lab(d,L.col-11,y(10**+d)+6,"end"));
}));
</script></body></html>
